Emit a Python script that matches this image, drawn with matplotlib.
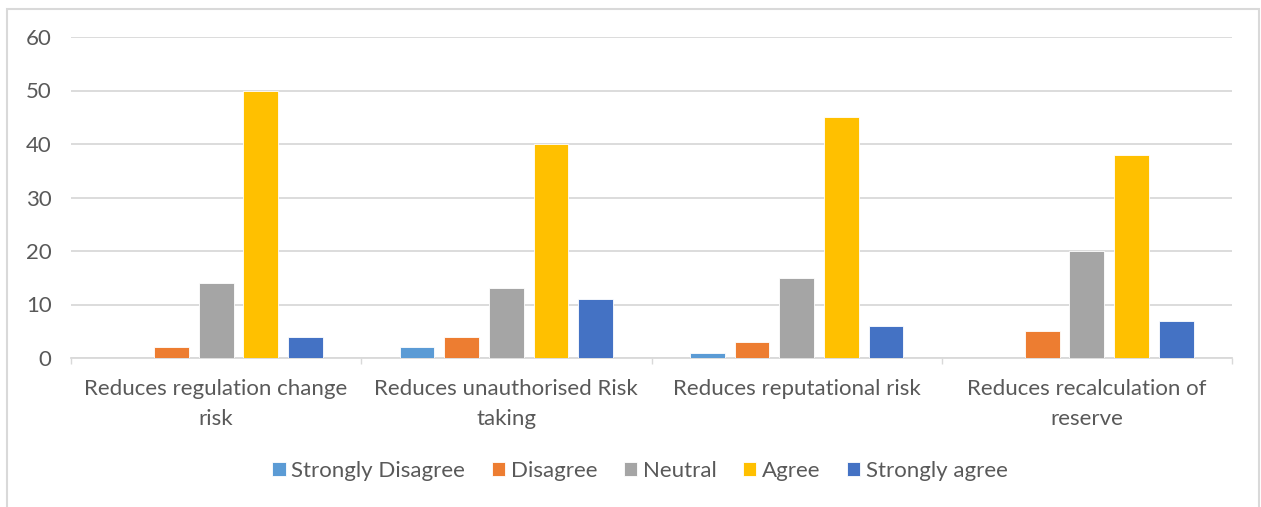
import matplotlib
matplotlib.use("Agg")
import matplotlib.pyplot as plt
import numpy as np
from matplotlib.patches import Rectangle

categories = [
    "Reduces regulation change\nrisk",
    "Reduces unauthorised Risk\ntaking",
    "Reduces reputational risk",
    "Reduces recalculation of\nreserve",
]
series_names = ["Strongly Disagree", "Disagree", "Neutral", "Agree", "Strongly agree"]
strongly_disagree = [0, 2, 1, 0]
disagree = [2, 4, 3, 5]
neutral = [14, 13, 15, 20]
agree = [50, 40, 45, 38]
strongly_agree = [4, 11, 6, 7]
series_values = [strongly_disagree, disagree, neutral, agree, strongly_agree]
colors = ["#5B9BD5", "#ED7D31", "#A5A5A5", "#FFC000", "#4472C4"]
yticks = [0, 10, 20, 30, 40, 50, 60]

plt.rcParams["font.family"] = ["Lato", "DejaVu Sans"]
text_color = "#595959"
grid_color = "#D9D9D9"
fs = 16

W, H = 1261, 507
fig = plt.figure(figsize=(W / 100, H / 100), dpi=100)
ax = fig.add_axes([71 / W, 1 - 358 / H, (1232 - 71) / W, (358 - 37) / H])

# chart frame
fig.patches.append(Rectangle((7 / W, -0.01), (1259 - 7) / W, 1 - 9 / H + 0.01,
                             transform=fig.transFigure, fill=False,
                             edgecolor=grid_color, linewidth=1.5))

x = np.arange(len(categories))
step = 0.154
width = 0.12
for i, (name, vals, c) in enumerate(zip(series_names, series_values, colors)):
    ax.bar(x + (i - 2) * step, vals, width=width, color=c, label=name,
           edgecolor="white", linewidth=0.6, zorder=3)

ax.set_xlim(-0.5, len(categories) - 0.5)
ax.set_ylim(0, 60)
ax.set_yticks(yticks)
ax.yaxis.grid(True, color=grid_color, linewidth=1.3, zorder=0)
ax.set_axisbelow(True)
for s in ["top", "right", "left"]:
    ax.spines[s].set_visible(False)
ax.spines["bottom"].set_color(grid_color)
ax.spines["bottom"].set_linewidth(1.3)

ax.set_xticks(x)
ax.set_xticklabels(categories, fontsize=fs, color=text_color, linespacing=1.65)
ax.tick_params(axis="x", length=0, pad=15)
ax.set_xticks(np.arange(-0.5, len(categories)), minor=True)
ax.tick_params(axis="x", which="minor", length=4, color=grid_color, width=1.0)
ax.tick_params(axis="y", length=0, labelsize=fs, labelcolor=text_color, pad=14)

leg = fig.legend(loc="center", bbox_to_anchor=(640 / W, 1 - 471 / H), ncol=5,
                 frameon=False, fontsize=fs, handlelength=0.6, handleheight=0.6,
                 handletextpad=0.25, columnspacing=1.2, labelcolor=text_color)

fig.savefig("out.png", dpi=100)
